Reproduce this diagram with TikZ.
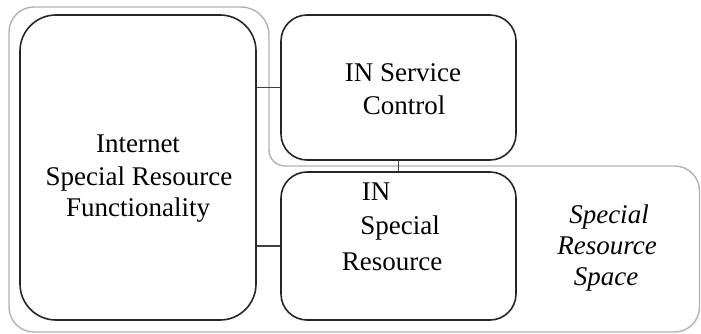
\documentclass[tikz,border=0pt]{standalone}
\usepackage{fontspec}
\setmainfont{Liberation Serif}
\begin{document}
\begin{tikzpicture}[x=1pt,y=-1pt,
  box/.style={draw=black!85, line width=1.6pt, rounded corners=#1, inner sep=0pt},
  link/.style={draw=black!75, line width=1.3pt},
  srsline/.style={draw=black!30, line width=1.4pt},
  lbl/.style={font=\fontsize{27}{31}\selectfont, anchor=base, inner sep=0pt},
  itlbl/.style={lbl, font=\fontsize{27}{31}\selectfont\itshape}]
\useasboundingbox (0,0) rectangle (701,334);

% Special Resource Space outline (L-shaped region)
\draw[srsline, rounded corners=28] (9,7) -- (269,7) [rounded corners=16] -- (269,166)
  [rounded corners=25] -- (699.5,166) -- (699.5,332) -- (9,332) -- cycle;

% Functional blocks
\node[box=36, minimum width=236pt, minimum height=305pt] (isrf) at (138,167.5) {};
\node[box=26, minimum width=235pt, minimum height=145pt] (insc) at (398.5,87.5) {};
\node[box=26, minimum width=235pt, minimum height=148pt] (insr) at (398.5,246) {};

% Interfaces
\draw[link] (insc.west) -- (isrf.east |- insc.west);
\draw[link] (insr.west) -- (isrf.east |- insr.west);
\draw[link] (insc.south) -- (insr.north);

% Labels
\node[lbl] (isrf1) at (138,153) {Internet};
\node[lbl] (isrf2) at (139,185) {Special Resource};
\node[lbl] (isrf3) at (138,216) {Functionality};

\node[lbl] (insc1) at (403,82) {IN Service};
\node[lbl] (insc2) at (404,115) {Control};

\node[lbl] (insr1) at (376,200) {IN};
\node[lbl] (insr2) at (400,234) {Special};
\node[lbl] (insr3) at (392,270) {Resource};

\node[itlbl] (srs1) at (609,223) {Special};
\node[itlbl] (srs2) at (607,254) {Resource};
\node[itlbl] (srs3) at (606,285) {Space};
\end{tikzpicture}
\end{document}
